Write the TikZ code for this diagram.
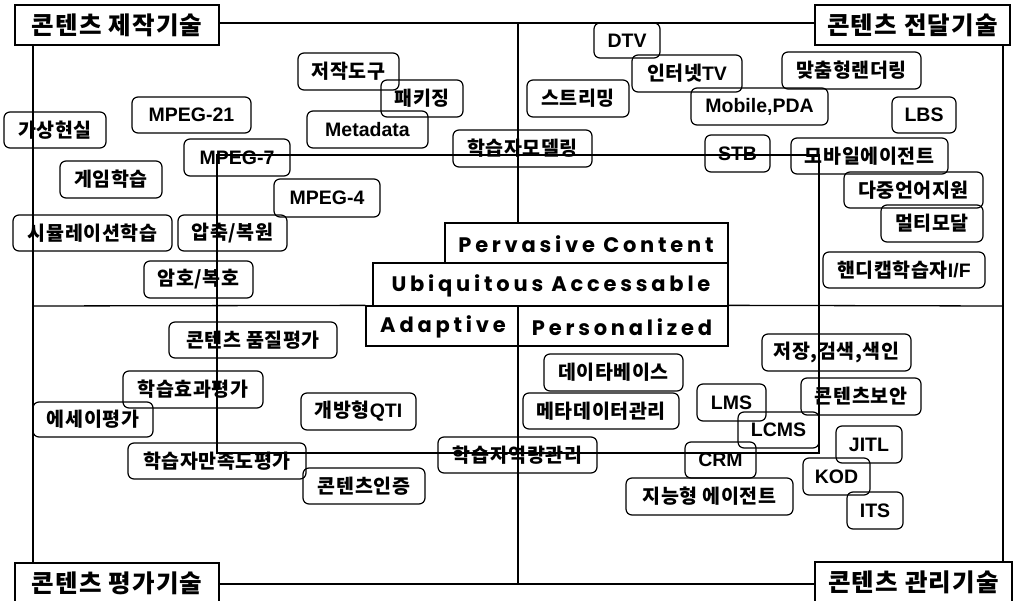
\documentclass[tikz,border=0pt]{standalone}
\usepackage{fontspec}
\setmainfont{Liberation Sans}
\newfontfamily\krfont{Noto Sans CJK KR}[LetterSpace=3]
\newfontfamily\krtfont{Noto Sans CJK KR}[LetterSpace=5]
\newfontfamily\popfont{Poppins}[LetterSpace=18]
\newcommand\kr[1]{{\krfont\bfseries #1}}
\newcommand\rbox[6]{\node[rb,minimum width={(#4)-(#2)},minimum height={(#5)-(#3)}] (#1) at ({((#2)+(#4))/2},{((#3)+(#5))/2}) {#6};}
\newcommand\tbox[6]{\node[tb,minimum width={(#4)-(#2)},minimum height={(#5)-(#3)}] (#1) at ({((#2)+(#4))/2},{((#3)+(#5))/2}) {#6};}
\newcommand\cbox[5]{\node[cb,minimum width={(#4)-(#2)},minimum height={(#5)-(#3)}] (#1) at ({((#2)+(#4))/2},{((#3)+(#5))/2}) {};}
\tikzset{
  rb/.style={draw, rounded corners=6pt, line width=1.2pt, inner sep=0pt, font=\fontsize{19.5}{20}\selectfont\bfseries},
  tb/.style={draw, line width=1.3pt, inner sep=0pt, font=\fontsize{24.5}{26}\selectfont\krtfont\bfseries},
  cb/.style={draw, line width=1.3pt, inner sep=0pt},
  ctext/.style={inner sep=0pt, font=\fontsize{21}{22}\selectfont\popfont\bfseries},
  frame/.style={line width=1.3pt}
}
\begin{document}
\begin{tikzpicture}[x=1pt,y=-1pt]
\useasboundingbox (0,0) rectangle (1016,601);
% title boxes
\tbox{tl}{15}{5}{219}{45}{콘텐츠 제작기술}
\tbox{tr}{815}{5}{1010}{45}{콘텐츠 전달기술}
\tbox{bl}{15}{563}{219}{603}{콘텐츠 평가기술}
\tbox{br}{815}{562}{1012}{602}{콘텐츠 관리기술}
% central stacked boxes
\cbox{p1}{445}{223}{728}{263}
\cbox{p2}{373}{263}{728}{306}
\cbox{p3}{366}{306}{728}{346}
\node[ctext] (t1) at (586,244) {Pervasive Content};
\node[ctext] (t2) at (551,286) {Ubiquitous Accessable};
\node[ctext] (t3) at (443,327) {Adaptive};
\node[ctext] (t4) at (622,327) {Personalized};
% frame
\coordinate (ct) at (518,23);
\coordinate (cb) at (518,584);
\coordinate (ml) at (33,306);
\coordinate (mr) at (1003,306);
\draw[frame] (tl.east |- ct) -- (tr.west |- ct);
\draw[frame] (bl.east |- cb) -- (br.west |- cb);
\draw[frame] (tl.south -| ml) -- (bl.north -| ml);
\draw[frame] (tr.south -| mr) -- (br.north -| mr);
\draw[frame] (ct) -- (ct |- p1.north);
\draw[frame] (p2.south -| ct) -- (cb);
\draw[frame] (ml) -- (p3.north west);
\draw[frame] (p3.north east) -- (mr);
\draw[frame] (217,155) rectangle (819,453);
% top-left quadrant
\rbox{a1}{298}{53}{399}{90}{\kr{저작도구}}
\rbox{a2}{381}{80}{463}{117}{\kr{패키징}}
\rbox{a3}{307}{111}{428}{148}{Metadata}
\rbox{a4}{132}{97}{251}{133}{MPEG-21}
\rbox{a5}{4}{112}{106}{148}{\kr{가상현실}}
\rbox{a6}{184}{139}{290}{176}{MPEG-7}
\rbox{a7}{453}{130}{592}{167}{\kr{학습자모델링}}
\rbox{a8}{60}{161}{162}{198}{\kr{게임학습}}
\rbox{a9}{274}{179}{380}{217}{MPEG-4}
\rbox{a10}{13}{215}{172}{251}{\kr{시뮬레이션학습}}
\rbox{a11}{178}{215}{287}{251}{\kr{압축/복원}}
\rbox{a12}{144}{261}{253}{298}{\kr{암호/복호}}
% top-right quadrant
\rbox{b1}{594}{23}{660}{58}{DTV}
\rbox{b2}{632}{55}{742}{92}{\kr{인터넷}TV}
\rbox{b3}{782}{52}{921}{89}{\kr{맞춤형랜더링}}
\rbox{b4}{527}{80}{629}{117}{\kr{스트리밍}}
\rbox{b5}{691}{88}{828}{125}{Mobile,PDA}
\rbox{b6}{892}{97}{956}{133}{LBS}
\rbox{b7}{705}{135}{770}{172}{STB}
\rbox{b8}{791}{138}{948}{174}{\kr{모바일에이전트}}
\rbox{b9}{844}{172}{983}{208}{\kr{다중언어지원}}
\rbox{b10}{881}{205}{983}{242}{\kr{멀티모달}}
\rbox{b11}{823}{252}{985}{288}{\kr{핸디캡학습자}I/F}
% bottom-left quadrant
\rbox{c1}{169}{322}{337}{358}{\kr{콘텐츠 품질평가}}
\rbox{c2}{123}{371}{263}{408}{\kr{학습효과평가}}
\rbox{c3}{33}{402}{153}{437}{\kr{에세이평가}}
\rbox{c4}{301}{393}{416}{430}{\kr{개방형}QTI}
\rbox{c5}{128}{443}{306}{479}{\kr{학습자만족도평가}}
\rbox{c6}{303}{468}{425}{504}{\kr{콘텐츠인증}}
\rbox{c7}{438}{437}{597}{473}{\kr{학습자역량관리}}
% bottom-right quadrant
\rbox{d1}{544}{354}{683}{391}{\kr{데이타베이스}}
\rbox{d2}{523}{393}{679}{429}{\kr{메타데이터관리}}
\rbox{d3}{762}{334}{911}{371}{\kr{저장,검색,색인}}
\rbox{d4}{801}{378}{921}{415}{\kr{콘텐츠보안}}
\rbox{d5}{697}{384}{766}{421}{LMS}
\rbox{d6}{738}{412}{819}{448}{LCMS}
\rbox{d7}{836}{426}{902}{463}{JITL}
\rbox{d8}{685}{442}{756}{478}{CRM}
\rbox{d9}{803}{458}{870}{495}{KOD}
\rbox{d10}{626}{478}{793}{515}{\kr{지능형 에이전트}}
\rbox{d11}{847}{492}{903}{529}{ITS}
\end{tikzpicture}
\end{document}
